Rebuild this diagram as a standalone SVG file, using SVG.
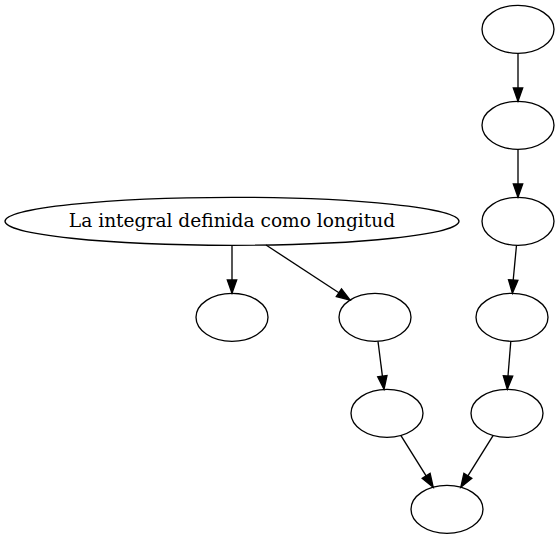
<svg xmlns="http://www.w3.org/2000/svg" width="560" height="539" viewBox="0 0 560 539">
<style>
.n ellipse{fill:none;stroke:#000;stroke-width:1.33}
.e line{stroke:#000;stroke-width:1.33}
.e polygon{fill:#000;stroke:#000;stroke-width:1.33}
text{font-family:"DejaVu Serif","Liberation Serif",serif;font-size:18.6px;fill:#000}
</style>
<rect width="560" height="539" fill="#fff"/>
<g id="edges" class="e">
<line x1="518" y1="53.3" x2="518" y2="88"/><polygon points="518,101.3 513.3,88 522.7,88"/>
<line x1="518" y1="149.3" x2="518" y2="184"/><polygon points="518,197.3 513.3,184 522.7,184"/>
<line x1="516.5" y1="245.3" x2="513.2" y2="280"/><polygon points="512.4,293.3 517.9,280.3 508.5,279.7"/>
<line x1="510.8" y1="341.3" x2="508" y2="376"/><polygon points="507.3,389.3 512.7,376.2 503.3,375.8"/>
<line x1="493.2" y1="435.4" x2="467.9" y2="475.9"/><polygon points="460.8,487.2 471.8,478.4 463.9,473.4"/>
<line x1="400.8" y1="435.4" x2="426.1" y2="475.9"/><polygon points="433.2,487.2 430.1,473.4 422.2,478.4"/>
<line x1="232" y1="245.3" x2="232" y2="280"/><polygon points="232,293.3 227.3,280 236.7,280"/>
<line x1="266" y1="245" x2="338.9" y2="292.7"/><polygon points="350,300 336.3,296.6 341.5,288.8"/>
<line x1="378" y1="341.3" x2="382.4" y2="376.1"/><polygon points="384,389.3 387,375.5 377.7,376.7"/>
</g>
<g id="main" class="n"><ellipse cx="232" cy="221.3" rx="227" ry="24"/><text x="232" y="226.8" text-anchor="middle">La integral definida como longitud</text></g>
<g id="a" class="n"><ellipse cx="518" cy="29.3" rx="36" ry="24"/></g>
<g id="b" class="n"><ellipse cx="518" cy="125.3" rx="36" ry="24"/></g>
<g id="c" class="n"><ellipse cx="518" cy="221.3" rx="36" ry="24"/></g>
<g id="d" class="n"><ellipse cx="512" cy="317.3" rx="36" ry="24"/></g>
<g id="e" class="n"><ellipse cx="507" cy="413.3" rx="36" ry="24"/></g>
<g id="f" class="n"><ellipse cx="447" cy="509.3" rx="36" ry="24"/></g>
<g id="g" class="n"><ellipse cx="232" cy="317.3" rx="36" ry="24"/></g>
<g id="h" class="n"><ellipse cx="375" cy="317.3" rx="36" ry="24"/></g>
<g id="i" class="n"><ellipse cx="387" cy="413.3" rx="36" ry="24"/></g>
</svg>
